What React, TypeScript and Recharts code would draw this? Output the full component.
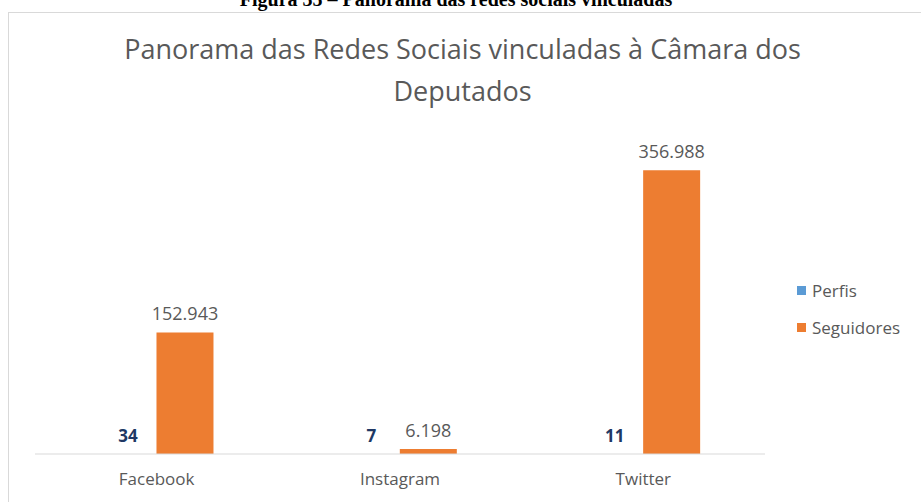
import { Bar, BarChart, LabelList, XAxis, YAxis } from "recharts";

const categories = ["Facebook", "Instagram", "Twitter"];
const perfis = [34, 7, 11];
const seguidores = [152943, 6198, 356988];
const yMax = 400000;

const data = categories.map((name, i) => ({
  name,
  perfis: perfis[i],
  seguidores: seguidores[i],
}));

const font = "'Open Sans', sans-serif";
const gray = "#595959";

const formatThousands = (value: number) => String(value).replace(/\B(?=(\d{3})+(?!\d))/g, ".");

const legendItems = [
  { label: "Perfis", color: "#5B9BD5" },
  { label: "Seguidores", color: "#ED7D31" },
];

function SideLegend() {
  return (
    <div style={{ position: "absolute", left: 797, top: 272, fontFamily: font, fontSize: 17, color: gray }}>
      {legendItems.map((item) => (
        <div key={item.label} style={{ display: "flex", alignItems: "center", height: 37 }}>
          <span style={{ width: 9, height: 9, background: item.color, marginRight: 6, display: "inline-block" }} />
          {item.label}
        </div>
      ))}
    </div>
  );
}

export default function App() {
  return (
    <div
      style={{
        position: "absolute",
        left: 0,
        top: 0,
        width: 921,
        height: 502,
        overflow: "hidden",
        background: "#fff",
      }}
    >
      <div
        style={{
          position: "absolute",
          top: -12,
          left: 0,
          width: 912,
          textAlign: "center",
          fontFamily: "'Liberation Serif', serif",
          fontWeight: "bold",
          fontSize: 20,
          lineHeight: "22px",
        }}
      >
        Figura 35 – Panorama das redes sociais vinculadas
      </div>
      <div
        style={{
          position: "absolute",
          left: 8,
          top: 12,
          width: 930,
          height: 520,
          border: "1px solid #d9d9d9",
        }}
      />
      <div
        style={{
          position: "absolute",
          top: 28,
          left: 0,
          width: 925,
          textAlign: "center",
          fontFamily: font,
          fontSize: 27,
          lineHeight: "42px",
          color: gray,
        }}
      >
        Panorama das Redes Sociais vinculadas à Câmara dos
        <br />
        Deputados
      </div>
      <BarChart
        width={921}
        height={502}
        data={data}
        margin={{ top: 136, right: 156, bottom: 18, left: 35 }}
        barCategoryGap="26.5%"
        barGap={0}
        style={{ position: "absolute", left: 0, top: 0 }}
      >
        <XAxis
          dataKey="name"
          axisLine={{ stroke: "#d9d9d9" }}
          tickLine={false}
          tick={{ fill: gray, fontSize: 17, fontFamily: font }}
          tickMargin={13}
        />
        <YAxis hide domain={[0, yMax]} />
        <Bar dataKey="perfis" name="Perfis" fill="#5B9BD5" isAnimationActive={false}>
          <LabelList
            dataKey="perfis"
            position="top"
            offset={12}
            fill="#203864"
            fontWeight="bold"
            fontSize={17}
            fontFamily={font}
          />
        </Bar>
        <Bar dataKey="seguidores" name="Seguidores" fill="#ED7D31" isAnimationActive={false}>
          <LabelList
            dataKey="seguidores"
            position="top"
            offset={12}
            fill={gray}
            fontSize={18}
            fontFamily={font}
            formatter={(v: unknown) => formatThousands(Number(v))}
          />
        </Bar>
      </BarChart>
      <SideLegend />
    </div>
  );
}
